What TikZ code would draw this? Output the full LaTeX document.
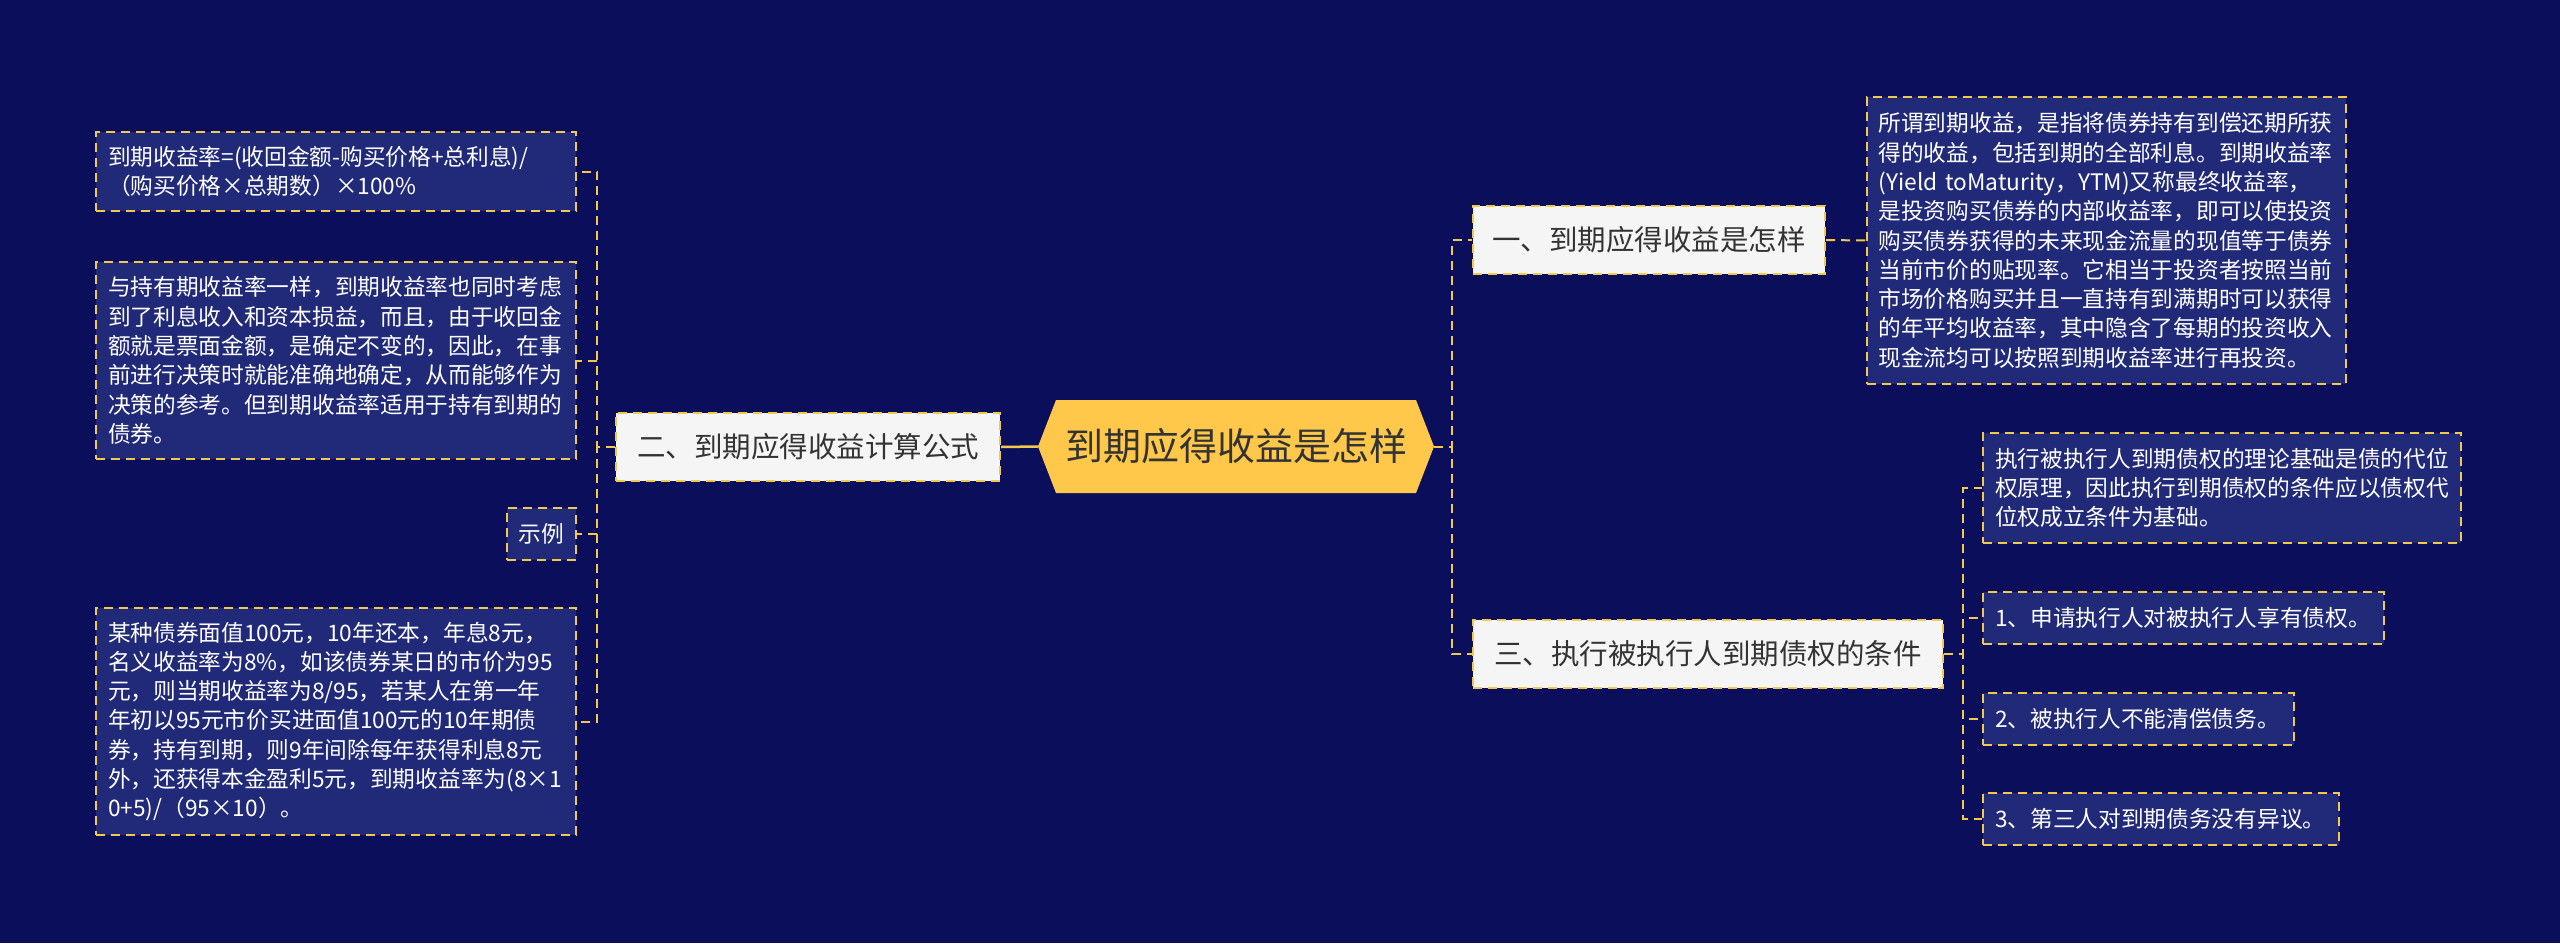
\documentclass[tikz,border=0pt]{standalone}
\usepackage{fontspec}
\setmainfont{Noto Sans CJK SC}
\definecolor{bgc}{HTML}{0B0F5B}
\definecolor{leafc}{HTML}{212A78}
\definecolor{ylw}{HTML}{F2C94C}
\definecolor{rootc}{HTML}{FFC84A}
\definecolor{lvl}{HTML}{F5F5F5}
\definecolor{dark}{HTML}{333333}
\begin{document}
\begin{tikzpicture}[x=1pt,y=-1pt,
  conn/.style={draw=ylw, line width=2pt, dash pattern=on 9pt off 6pt},
  leafbox/.style={draw=ylw, line width=2pt, dash pattern=on 9pt off 6pt, fill=leafc, text=white,
     font=\fontsize{22.7}{29.3}\selectfont, align=left, inner xsep=12pt, inner ysep=0pt},
  lvlbox/.style={draw=ylw, line width=2pt, dash pattern=on 9pt off 6pt, fill=lvl, text=dark,
     font=\fontsize{28.5}{34}\selectfont, align=center, inner sep=0pt, minimum height=68pt},
  rootbox/.style={text=dark, font=\fontsize{38}{44}\selectfont, inner sep=0pt, minimum width=396pt, minimum height=93pt}
]
\fill[bgc] (0,0) rectangle (2560,943);
\useasboundingbox (0,0) rectangle (2560,943);
% root hexagon
\fill[rootc] (1038,446.5) -- (1056,400) -- (1416,400) -- (1434,446.5) -- (1416,493) -- (1056,493) -- cycle;
\node[rootbox] (root) at (1236,446.5) {到期应得收益是怎样};

% level 1
\node[lvlbox, minimum width=384pt] (two) at (808,447) {二、到期应得收益计算公式};
\node[lvlbox, minimum width=352pt] (one) at (1649,240) {一、到期应得收益是怎样};
\node[lvlbox, minimum width=470pt] (three) at (1708,653.5) {三、执行被执行人到期债权的条件};

% left leaves
\node[leafbox, text width=456pt, minimum height=79pt] (l1) at (336,171.5) {到期收益率=(收回金额-购买价格+总利息)/\\（购买价格×总期数）×100\%};
\node[leafbox, text width=456pt, minimum height=197pt] (l2) at (336,360.5) {与持有期收益率一样，到期收益率也同时考虑\\到了利息收入和资本损益，而且，由于收回金\\额就是票面金额，是确定不变的，因此，在事\\前进行决策时就能准确地确定，从而能够作为\\决策的参考。但到期收益率适用于持有到期的\\债券。};
\node[leafbox, minimum width=69pt, minimum height=52pt, align=center, inner xsep=0pt] (l3) at (541.5,534) {示例};
\node[leafbox, text width=456pt, minimum height=227pt] (l4) at (336,721.5) {某种债券面值100元，10年还本，年息8元，\\名义收益率为8\%，如该债券某日的市价为95\\元，则当期收益率为8/95，若某人在第一年\\年初以95元市价买进面值100元的10年期债\\券，持有到期，则9年间除每年获得利息8元\\外，还获得本金盈利5元，到期收益率为(8×1\\0+5)/（95×10）。};

% right description
\node[leafbox, text width=455pt, minimum height=287pt] (d1) at (2106,240.5) {所谓到期收益，是指将债券持有到偿还期所获\\得的收益，包括到期的全部利息。到期收益率\\(Yield toMaturity，YTM)又称最终收益率，\\是投资购买债券的内部收益率，即可以使投资\\购买债券获得的未来现金流量的现值等于债券\\当前市价的贴现率。它相当于投资者按照当前\\市场价格购买并且一直持有到满期时可以获得\\的年平均收益率，其中隐含了每期的投资收入\\现金流均可以按照到期收益率进行再投资。};

% children of three
\node[leafbox, text width=454pt, minimum height=110pt] (c1) at (2222,488) {执行被执行人到期债权的理论基础是债的代位\\权原理，因此执行到期债权的条件应以债权代\\位权成立条件为基础。};
\node[leafbox, text width=377pt, minimum height=52pt] (c2) at (2183.5,618) {1、申请执行人对被执行人享有债权。};
\node[leafbox, text width=287pt, minimum height=52pt] (c3) at (2138.5,719) {2、被执行人不能清偿债务。};
\node[leafbox, text width=332pt, minimum height=52pt] (c4) at (2161,819) {3、第三人对到期债务没有异议。};

% connectors
\draw[draw=ylw, line width=2.5pt] (root.west) -- (two.east);
\foreach \n in {l1,l2,l3,l4} \draw[conn] (two.west) -- ++(-18,0) |- (\n.east);
\foreach \n in {one,three} \draw[conn] (root.east) -- ++(18,0) |- (\n.west);
\draw[conn] (one.east) -- (d1.west);
\foreach \n in {c1,c2,c3,c4} \draw[conn] (three.east) -- ++(19,0) |- (\n.west);
\end{tikzpicture}
\end{document}
